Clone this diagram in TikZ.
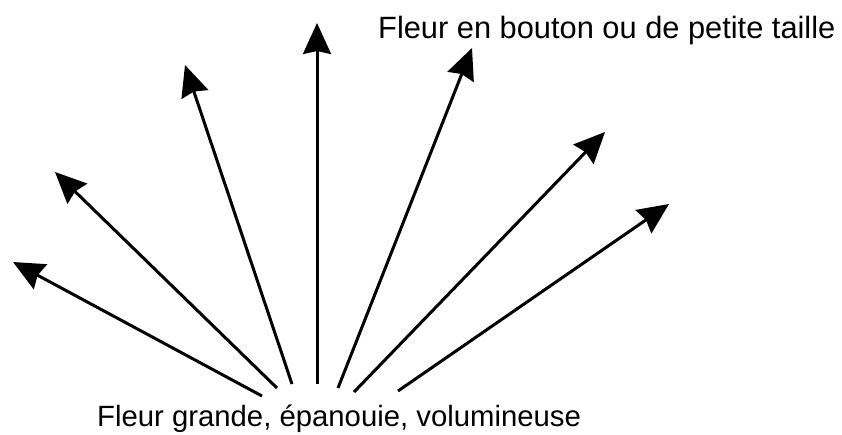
\documentclass[tikz,border=0pt]{standalone}
\usepackage{fontspec}
\setmainfont{Liberation Sans}
\usetikzlibrary{arrows.meta}
\begin{document}
\begin{tikzpicture}[x=1pt,y=-1pt,
  flow/.style={line width=3pt,-{Stealth[length=31pt,width=28pt,inset=3pt]}},
  lbl/.style={anchor=base west,inner sep=0pt}]
\useasboundingbox (0,0) rectangle (842,434);
\node[lbl,font=\fontsize{30.8pt}{33pt}\selectfont] (top) at (378,38) {Fleur en bouton ou de petite taille};
\node[lbl,font=\fontsize{29.3pt}{32pt}\selectfont] (bot) at (97,426) {Fleur grande, épanouie, volumineuse};
\coordinate (s1) at (262,396);
\coordinate (s2) at (277,388);
\coordinate (s3) at (292,384);
\coordinate (s4) at (317,384);
\coordinate (s5) at (338,388);
\coordinate (s6) at (354,392);
\coordinate (s7) at (398,391);
\coordinate (t1) at (13,262);
\coordinate (t2) at (55,172);
\coordinate (t3) at (185,65);
\coordinate (t4) at (317,23);
\coordinate (t5) at (472,48);
\coordinate (t6) at (605,132);
\coordinate (t7) at (669,204);
\foreach \i in {1,...,7}{\draw[flow] (s\i) -- (t\i);}
\end{tikzpicture}
\end{document}
